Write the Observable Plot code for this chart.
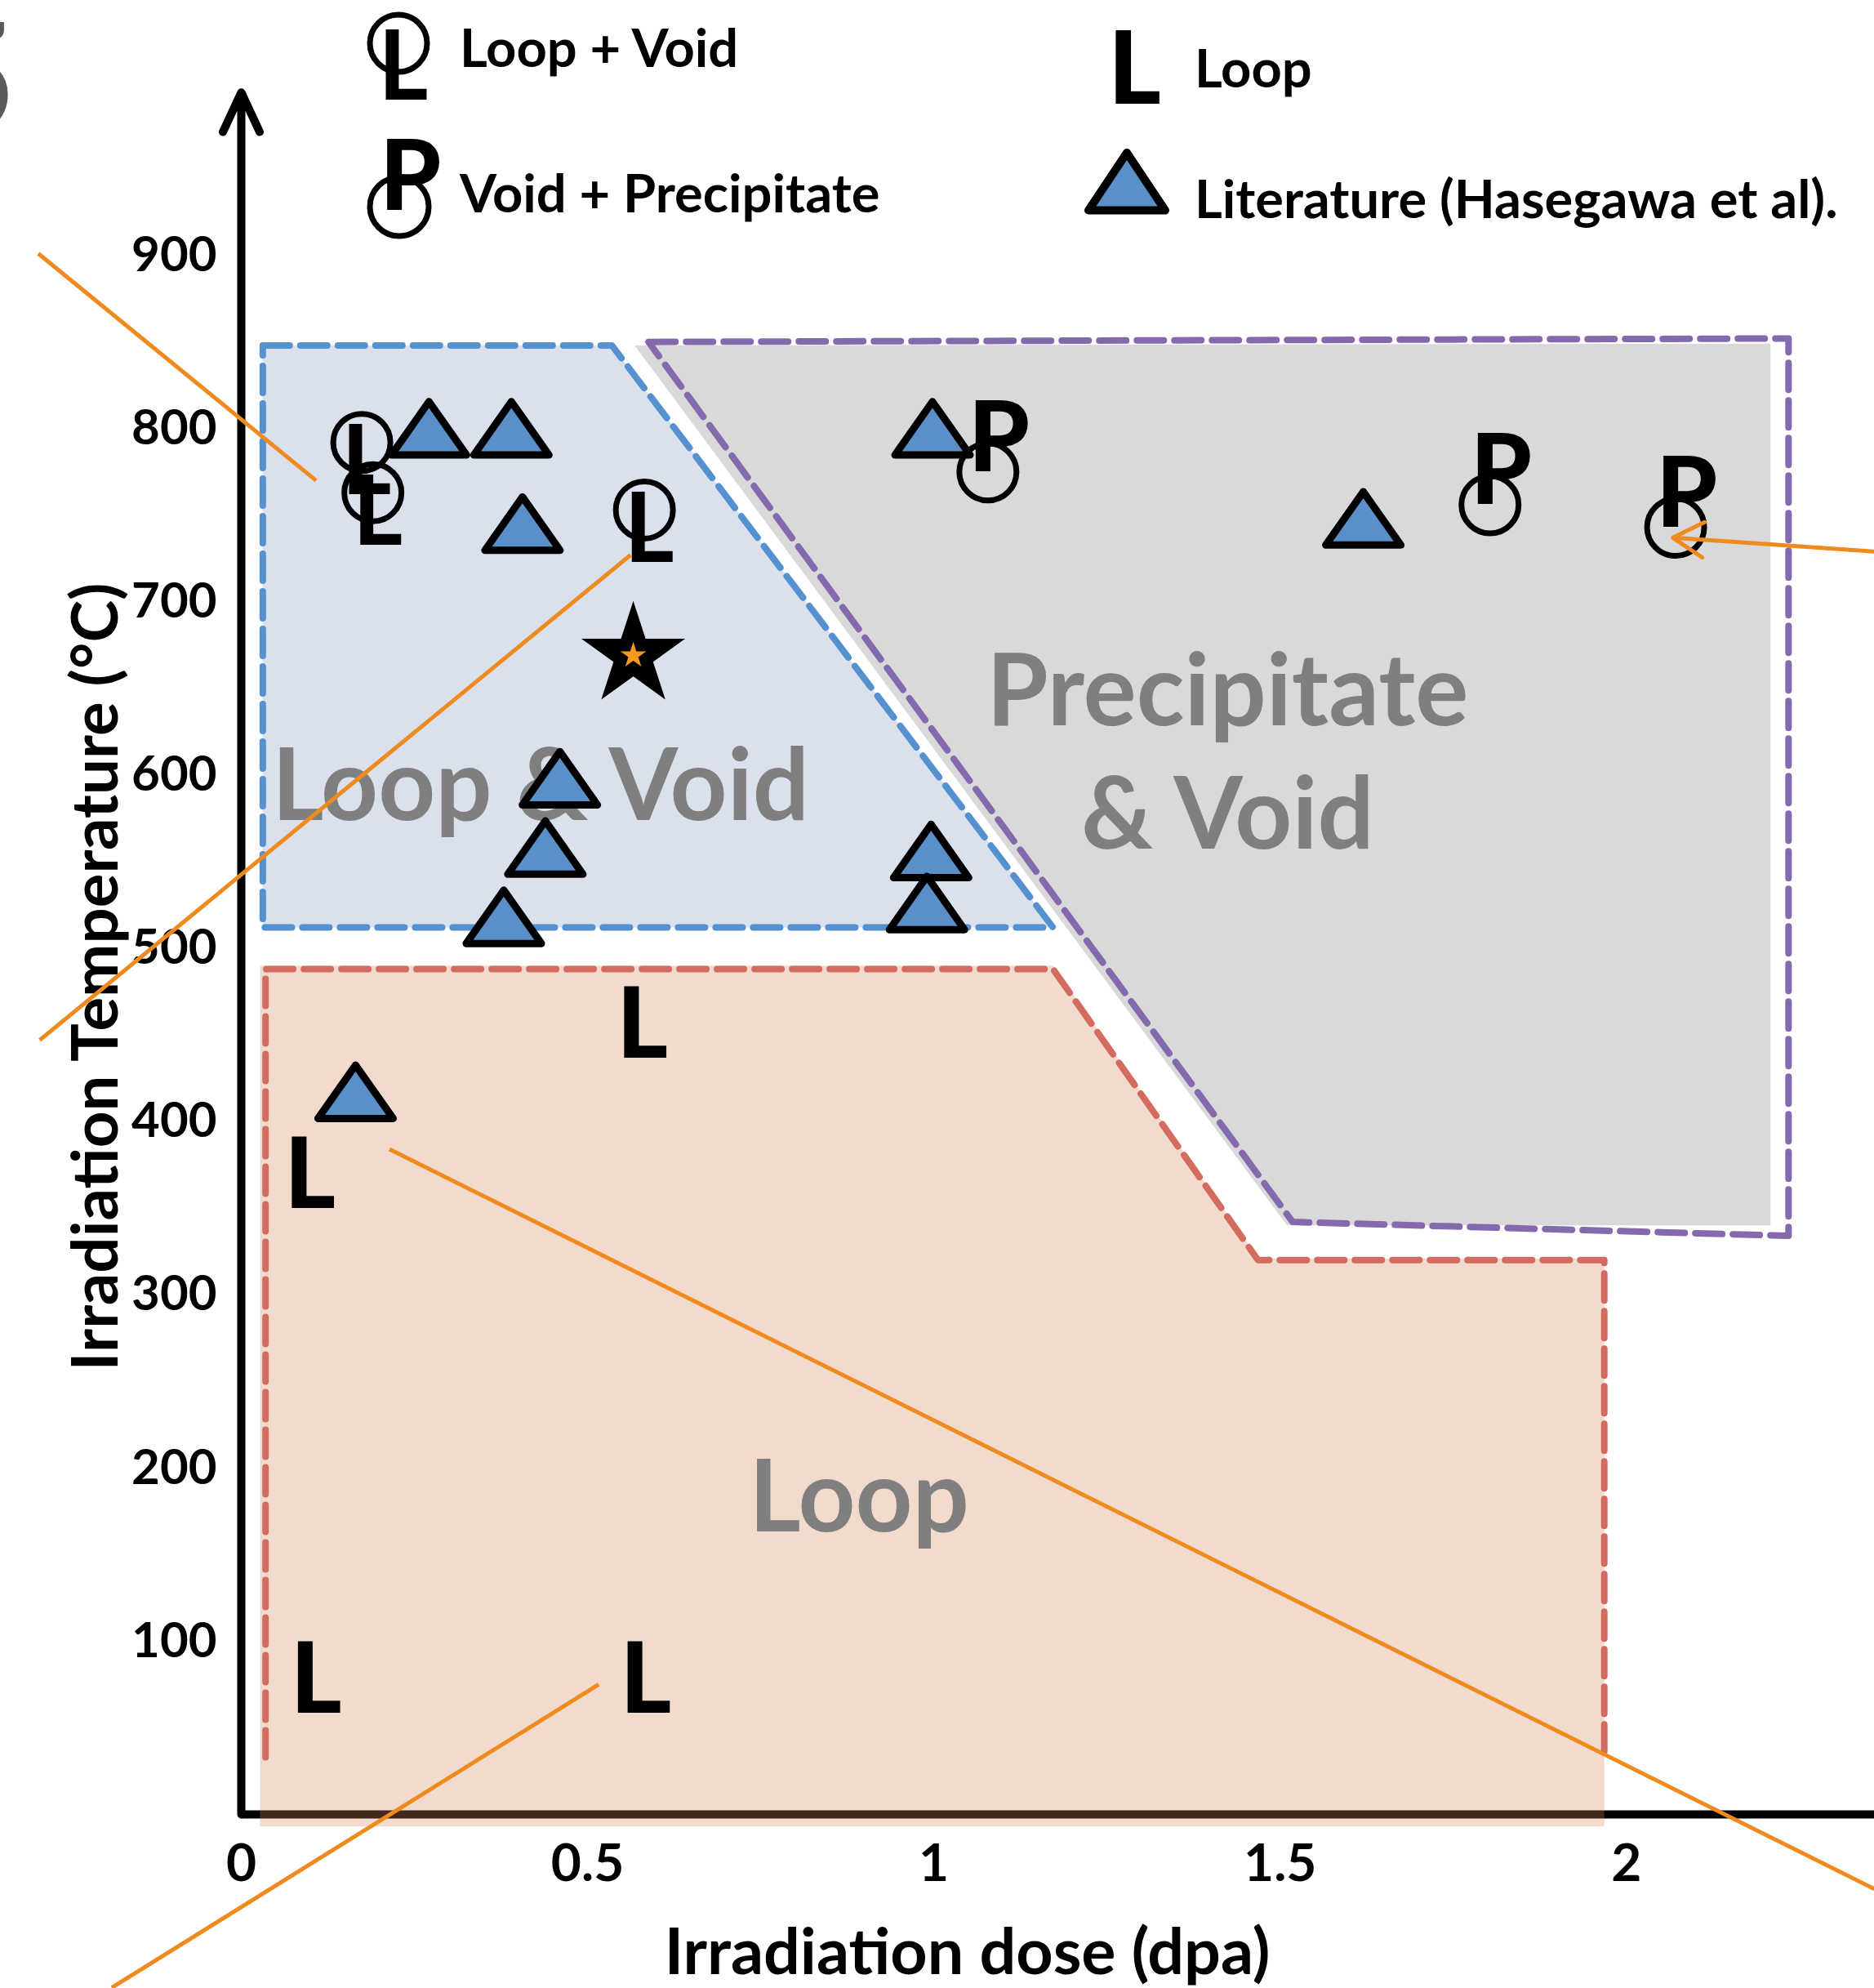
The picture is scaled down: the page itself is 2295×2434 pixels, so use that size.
<!DOCTYPE html>
<html>
<head>
<meta charset="utf-8">
<script src="https://cdn.jsdelivr.net/npm/d3@7"></script>
<script src="https://cdn.jsdelivr.net/npm/@observablehq/plot@0.6"></script>
<style>
  html, body { margin: 0; padding: 0; background: #ffffff; }
  #wrap { position: relative; width: 2295px; height: 2434px; overflow: hidden; }
  #wrap > svg { position: absolute; left: 0; top: 0; }
</style>
</head>
<body>
<div id="wrap"></div>
<script>
// ---------------- data ----------------
const xTicks = [0, 0.5, 1, 1.5, 2];
const yTicks = [100, 200, 300, 400, 500, 600, 700, 800, 900];
const xTitle = "Irradiation dose (dpa)";
const yTitle = "Irradiation Temperature (°C)";

// Literature (Hasegawa et al) points
const literatureDose = [0.271, 0.390, 0.406, 0.460, 0.439, 0.379, 0.996, 0.990, 0.165, 0.998, 1.620];
const literatureTemp = [795, 795, 740, 593, 553, 513, 551, 521, 412, 795, 743];

// Loop only
const loopDose = [0.579, 0.099, 0.108, 0.584];
const loopTemp = [455, 368, 77, 77];

// Loop + Void
const loopVoidDose = [0.174, 0.190, 0.582];
const loopVoidTemp = [792, 763, 753];

// Void + Precipitate
const voidPrecDose = [1.078, 1.803, 2.071];
const voidPrecTemp = [775, 756, 743];

// highlighted sample (star)
const starDose = [0.566];
const starTemp = [669];

// regions
const loopVoidRegionDose = [0.031, 0.535, 1.172, 0.031, 0.031];
const loopVoidRegionTemp = [848, 848, 512, 512, 848];

const precVoidFillDose = [0.568, 2.208, 2.208, 1.510, 0.568];
const precVoidFillTemp = [848, 849, 340, 340, 848];
const precVoidLineDose = [0.588, 2.234, 2.234, 1.518, 0.588];
const precVoidLineTemp = [850, 852, 334, 342, 850];

const loopFillDose = [0.027, 1.172, 1.468, 1.968, 1.968, 0.027];
const loopFillTemp = [490, 490, 321, 321, -7, -7];
const loopLineDose = [0.035, 0.035, 1.172, 1.468, 1.968, 1.968];
const loopLineTemp = [33, 488, 488, 320, 320, 33];

// region labels
const regionLabels = ["Loop & Void", "Precipitate\n& Void", "Loop"];
const regionLabelDose = [0.432, 1.424, 0.892];
const regionLabelTemp = [597, 616, 186];

// orange annotation strokes
const orangeX1 = [-0.293, -0.291, 0.214, -0.187];
const orangeY1 = [901, 447, 384, -100];
const orangeX2 = [0.108, 0.562, 2.358, 0.516];
const orangeY2 = [770, 727, -43, 75];
const orangeArrowX1 = [2.358];
const orangeArrowY1 = [729];
const orangeArrowX2 = [2.067];
const orangeArrowY2 = [737];

// legend
const legendLabels = ["Loop + Void", "Void + Precipitate", "Loop", "Literature (Hasegawa et al)."];
const legendSymbols = ["loopVoid", "voidPrec", "loop", "literature"];

const xMax = 2.358;
const yMax = 1000;
const yAxisTop = 994;

// ---------------- helpers ----------------
const zip = (xs, ys) => xs.map((x, i) => ({dose: x, temp: ys[i]}));
const literature = zip(literatureDose, literatureTemp);
const loops = zip(loopDose, loopTemp);
const loopVoid = zip(loopVoidDose, loopVoidTemp);
const voidPrec = zip(voidPrecDose, voidPrecTemp);
const star = zip(starDose, starTemp);
const loopVoidRegion = zip(loopVoidRegionDose, loopVoidRegionTemp);
const precVoidFill = zip(precVoidFillDose, precVoidFillTemp);
const precVoidLine = zip(precVoidLineDose, precVoidLineTemp);
const loopFill = zip(loopFillDose, loopFillTemp);
const loopLine = zip(loopLineDose, loopLineTemp);
const labels = regionLabels.map((t, i) => ({text: t, dose: regionLabelDose[i], temp: regionLabelTemp[i]}));
const orange = orangeX1.map((x, i) => ({x1: x, y1: orangeY1[i], x2: orangeX2[i], y2: orangeY2[i]}));
const orangeArrow = orangeArrowX1.map((x, i) => ({x1: x, y1: orangeArrowY1[i], x2: orangeArrowX2[i], y2: orangeArrowY2[i]}));

function triangle(k) {
  return {
    draw(context, size) {
      const r = Math.sqrt(size / Math.PI);
      const h = k * r;
      context.moveTo(0, -2 * h / 3);
      context.lineTo(r, h / 3);
      context.lineTo(-r, h / 3);
      context.closePath();
    }
  };
}
const tri = triangle(1.42);
const legendTri = triangle(1.5);

const FONT = "Lato, 'Open Sans', sans-serif";
const BLUE = "#5590cf", PURPLE = "#8569ad", RED = "#d36b5e", ORANGE = "#ef8a1f";
const TRI_FILL = "#5b8fc9";
const dash = "33,13";

const chart = Plot.plot({
  width: 2295,
  height: 2434,
  marginLeft: 295,
  marginRight: 0,
  marginTop: 100,
  marginBottom: 213,
  x: {domain: [0, xMax]},
  y: {domain: [0, yMax]},
  style: {background: "transparent", fontFamily: FONT, color: "black"},
  marks: [
    // region fills (blue, gray)
    Plot.line(precVoidFill, {x: "dose", y: "temp", fill: "#d9d9d9", stroke: "none"}),
    Plot.line(loopVoidRegion, {x: "dose", y: "temp", fill: "#dae0ec", stroke: "none"}),
    // axes
    Plot.ruleY([0], {stroke: "black", strokeWidth: 10}),
    Plot.arrow([{x1: 0, y1: 0, x2: 0, y2: yAxisTop}], {x1: "x1", y1: "y1", x2: "x2", y2: "y2", stroke: "black", strokeWidth: 10, headLength: 8, headAngle: 50}),
    Plot.axisX(xTicks, {tickSize: 0, tickPadding: 36, fontSize: 64, fontWeight: 700, fontFamily: FONT, tickFormat: d => String(d), label: null}),
    Plot.axisY(yTicks, {tickSize: 0, tickPadding: 30, fontSize: 60, fontWeight: 700, fontFamily: FONT, tickFormat: d => String(d), label: null}),
    Plot.text([xTitle], {frameAnchor: "bottom", text: d => d, textAnchor: "middle", dx: -111, dy: 170, lineAnchor: "middle", fontSize: 79, fontWeight: 700, fontFamily: FONT, fill: "black"}),
    Plot.text([yTitle], {frameAnchor: "left", text: d => d, textAnchor: "middle", rotate: -90, dx: -176, dy: 35, lineAnchor: "middle", fontSize: 78, fontWeight: 700, fontFamily: FONT, fill: "black"}),
    // loop region fill (translucent, over the axis)
    Plot.line(loopFill, {x: "dose", y: "temp", fill: "#d4895a", fillOpacity: 0.3, stroke: "none"}),
    // dashed outlines
    Plot.line(loopVoidRegion, {x: "dose", y: "temp", stroke: BLUE, strokeWidth: 8, strokeDasharray: dash}),
    Plot.line(precVoidLine, {x: "dose", y: "temp", stroke: PURPLE, strokeWidth: 8, strokeDasharray: dash}),
    Plot.line(loopLine, {x: "dose", y: "temp", stroke: RED, strokeWidth: 8, strokeDasharray: dash}),
    // region labels
    Plot.text(labels, {x: "dose", y: "temp", text: "text", fontSize: 122, fontWeight: 700, fontFamily: FONT, fill: "#7f7f7f", lineHeight: 1.24, lineAnchor: "middle"}),
    // literature triangles
    Plot.dot(literature, {x: "dose", y: "temp", r: 46, symbol: tri, fill: TRI_FILL, stroke: "black", strokeWidth: 9, strokeLinejoin: "round"}),
    // loop + void
    Plot.dot(loopVoid, {x: "dose", y: "temp", r: 35, stroke: "black", strokeWidth: 7, fill: "none"}),
    Plot.text(loopVoid, {x: "dose", y: "temp", text: () => "L", textAnchor: "start", dx: -25, dy: 26, fontSize: 118, fontWeight: 700, fontFamily: FONT, fill: "black"}),
    // void + precipitate
    Plot.dot(voidPrec, {x: "dose", y: "temp", r: 35, stroke: "black", strokeWidth: 7, fill: "none"}),
    Plot.text(voidPrec, {x: "dose", y: "temp", text: () => "P", textAnchor: "start", dx: -24, dy: -39, fontSize: 120, fontWeight: 900, fontFamily: FONT, fill: "black"}),
    // loop only
    Plot.text(loops, {x: "dose", y: "temp", text: () => "L", fontSize: 120, fontWeight: 900, fontFamily: FONT, fill: "black", lineAnchor: "middle"}),
    // star
    Plot.dot(star, {x: "dose", y: "temp", symbol: "star", r: 38, fill: "black", stroke: "black", strokeWidth: 2}),
    Plot.dot(star, {x: "dose", y: "temp", symbol: "star", r: 10, fill: "#f39a1e"}),
    // orange annotation strokes
    Plot.link(orange, {x1: "x1", y1: "y1", x2: "x2", y2: "y2", stroke: ORANGE, strokeWidth: 5}),
    Plot.arrow(orangeArrow, {x1: "x1", y1: "y1", x2: "x2", y2: "y2", stroke: ORANGE, strokeWidth: 5, headLength: 13, headAngle: 60})
  ]
});
document.getElementById("wrap").appendChild(chart);

// ---------------- legend (overlay above the plot area) ----------------
const lg = d3.select("#wrap").append("svg")
  .attr("width", 2295).attr("height", 320)
  .style("position", "absolute").style("left", "0px").style("top", "0px");

// cut-off glyph at the very left edge of the source figure
lg.append("text").attr("x", 20).attr("y", 163).attr("text-anchor", "end")
  .attr("font-family", FONT).attr("font-weight", 700).attr("font-size", 188)
  .attr("fill", "#5a5a5a").text("5");

const legendPos = [
  {sx: 488, sy: 53, tx: 563, ty: 82},
  {sx: 489, sy: 253, tx: 563, ty: 260},
  {sx: 1367, sy: 127, tx: 1463, ty: 107},
  {sx: 1380, sy: 234, tx: 1463, ty: 267}
];

legendSymbols.forEach((sym, i) => {
  const p = legendPos[i];
  if (sym === "loopVoid") {
    lg.append("circle").attr("cx", p.sx).attr("cy", p.sy).attr("r", 35)
      .attr("fill", "none").attr("stroke", "black").attr("stroke-width", 7);
    lg.append("text").attr("x", p.sx - 25).attr("y", p.sy + 69)
      .attr("font-family", FONT).attr("font-weight", 700).attr("font-size", 118).text("L");
  } else if (sym === "voidPrec") {
    lg.append("circle").attr("cx", p.sx).attr("cy", p.sy).attr("r", 36)
      .attr("fill", "none").attr("stroke", "black").attr("stroke-width", 7);
    lg.append("text").attr("x", p.sx - 24).attr("y", p.sy + 4)
      .attr("font-family", FONT).attr("font-weight", 900).attr("font-size", 120).text("P");
  } else if (sym === "loop") {
    lg.append("text").attr("x", p.sx - 10).attr("y", p.sy)
      .attr("font-family", FONT).attr("font-weight", 900).attr("font-size", 124).text("L");
  } else {
    const path = d3.path();
    legendTri.draw(path, Math.PI * 47 * 47);
    lg.append("path").attr("d", path.toString())
      .attr("transform", `translate(${p.sx},${p.sy})`)
      .attr("fill", TRI_FILL).attr("stroke", "black").attr("stroke-width", 10)
      .attr("stroke-linejoin", "round");
  }
  lg.append("text").attr("x", p.tx).attr("y", p.ty)
    .attr("font-family", FONT).attr("font-weight", 700).attr("font-size", 65)
    .attr("fill", "black").text(legendLabels[i]);
});
</script>
</body>
</html>
